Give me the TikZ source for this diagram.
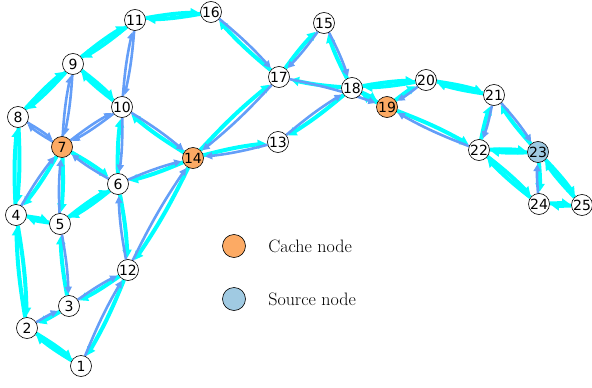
\documentclass[tikz,border=0pt]{standalone}
\usepackage{fontspec}
\newfontfamily\numfont{DejaVu Sans}
\usetikzlibrary{arrows.meta,backgrounds,positioning}
\definecolor{edgecyan}{RGB}{0,255,255}
\definecolor{edgeblue}{RGB}{100,158,248}
\definecolor{cacheorange}{RGB}{252,170,100}
\definecolor{sourceblue}{RGB}{160,202,226}
\tikzset{
  vertex/.style={circle, draw, semithick, fill=white, minimum size=21pt, inner sep=0pt,
    font=\numfont\fontsize{14}{14}\selectfont},
  cache/.style={vertex, fill=cacheorange},
  source/.style={vertex, fill=sourceblue},
  cyan edge/.style={-{Triangle[length=8pt,width=9pt]}, line width=4pt, edgecyan, shorten >=1.5pt},
  blue edge/.style={-{Triangle[length=7pt,width=7pt]}, line width=2.6pt, edgeblue, shorten >=1.5pt},
  key text/.style={font=\fontsize{18}{20}\selectfont},
}

\begin{document}
\begin{tikzpicture}[x=1pt, y=-1pt]
  \useasboundingbox (0,0) rectangle (592,388);

  % Nodes
  \node[vertex] (n1) at (81,366) {1};
  \node[vertex] (n2) at (27,328) {2};
  \node[vertex] (n3) at (69,306) {3};
  \node[vertex] (n4) at (16,215) {4};
  \node[vertex] (n5) at (60,224) {5};
  \node[vertex] (n6) at (118,184) {6};
  \node[cache]  (n7) at (62,147) {7};
  \node[vertex] (n8) at (18,117) {8};
  \node[vertex] (n9) at (73,64) {9};
  \node[vertex] (n10) at (122,107) {10};
  \node[vertex] (n11) at (135,20) {11};
  \node[vertex] (n12) at (128,270) {12};
  \node[vertex] (n13) at (278,142) {13};
  \node[cache]  (n14) at (193,158) {14};
  \node[vertex] (n15) at (324,23) {15};
  \node[vertex] (n16) at (211,12) {16};
  \node[vertex] (n17) at (279,77) {17};
  \node[vertex] (n18) at (352,88) {18};
  \node[cache]  (n19) at (387,107) {19};
  \node[vertex] (n20) at (426,80) {20};
  \node[vertex] (n21) at (494,95) {21};
  \node[vertex] (n22) at (479,150) {22};
  \node[source] (n23) at (538,152) {23};
  \node[vertex] (n24) at (539,204) {24};
  \node[vertex] (n25) at (582,205) {25};

  % Edges
  \begin{scope}[on background layer]
    \foreach \a/\b in {9/8, 8/9, 9/10, 10/9, 7/6, 6/10, 14/10, 14/6, 14/12, 6/12,
        7/4, 8/4, 4/8, 7/5, 4/5, 5/4, 6/5, 5/6, 4/2, 2/4, 3/5, 12/3, 3/2, 2/1,
        1/2, 12/1, 14/13, 14/17, 17/16, 17/15, 18/15, 18/17, 18/13, 18/19, 19/18,
        20/18, 18/20, 19/20, 19/22, 20/21, 21/20, 22/21, 23/21, 23/22, 22/23,
        22/24, 24/22, 23/24, 23/25, 25/23, 24/25, 25/24, 11/16, 16/11, 11/9, 9/11}
      \draw[cyan edge] (n\a) to[bend left=4] (n\b);
    \foreach \a/\b in {9/7, 7/9, 10/7, 7/10, 8/7, 7/8, 6/7, 10/6, 10/14, 6/14,
        12/14, 12/6, 4/7, 5/7, 5/3, 3/12, 2/3, 1/12, 13/14, 17/14, 16/17, 15/17,
        15/18, 17/19, 13/18, 20/19, 22/19, 21/22, 21/23, 24/23, 11/10, 10/11}
      \draw[blue edge] (n\a) to[bend left=4] (n\b);
  \end{scope}

  % Legend
  \node[cache, minimum size=23pt] (cachekey) at (234,246) {};
  \node[key text, right=19pt of cachekey] (cachelabel) {Cache node};
  \node[source, minimum size=23pt] (sourcekey) at (234,299) {};
  \node[key text, right=19pt of sourcekey] (sourcelabel) {Source node};
\end{tikzpicture}
\end{document}
